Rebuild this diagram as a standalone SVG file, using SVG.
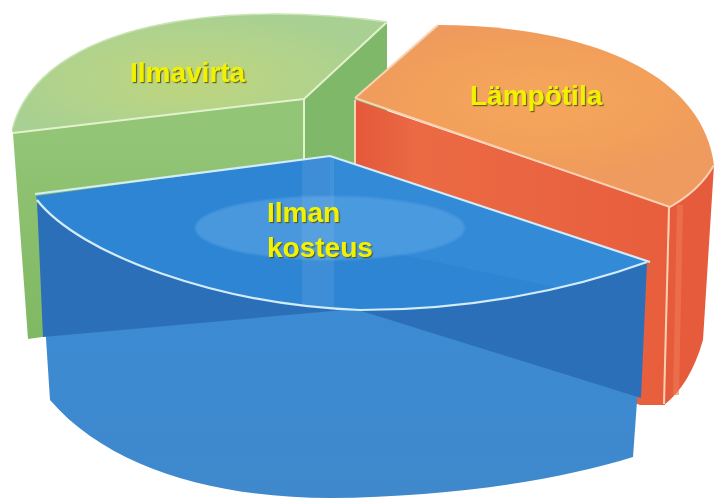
<svg xmlns="http://www.w3.org/2000/svg" width="715" height="500" viewBox="0 0 715 500">
<defs>
<radialGradient id="gTop" cx="190" cy="80" r="200" gradientUnits="userSpaceOnUse" gradientTransform="translate(190 80) scale(1 0.35) translate(-190 -80)">
<stop offset="0" stop-color="#bfd57c"/><stop offset="0.55" stop-color="#b3d38a"/><stop offset="1" stop-color="#a8d092"/>
</radialGradient>
<linearGradient id="gFront" x1="0" y1="130" x2="0" y2="340" gradientUnits="userSpaceOnUse">
<stop offset="0" stop-color="#93c576"/><stop offset="1" stop-color="#7fb862"/>
</linearGradient>
<radialGradient id="rTop" cx="540" cy="100" r="200" gradientUnits="userSpaceOnUse" gradientTransform="translate(540 100) scale(1 0.4) translate(-540 -100)">
<stop offset="0" stop-color="#f5a75c"/><stop offset="0.6" stop-color="#f2a05a"/><stop offset="1" stop-color="#ef9a5e"/>
</radialGradient>
<linearGradient id="rFront" x1="355" y1="0" x2="670" y2="0" gradientUnits="userSpaceOnUse">
<stop offset="0" stop-color="#e4583a"/><stop offset="0.2" stop-color="#eb6a44"/><stop offset="1" stop-color="#e85e3d"/>
</linearGradient>
<linearGradient id="bSide" x1="0" y1="300" x2="0" y2="500" gradientUnits="userSpaceOnUse">
<stop offset="0" stop-color="#3c8bd3"/><stop offset="1" stop-color="#3f88cc"/>
</linearGradient>
<clipPath id="bTopClip">
<path d="M36,196 L330,156 L650,262 L647,262 C570,290 470,310 360,310 C220,305 80,255 37,200 Z"/>
</clipPath>
<filter id="sh" x="-10%" y="-20%" width="120%" height="150%">
<feDropShadow dx="1.2" dy="1.2" stdDeviation="0.7" flood-color="#4a4a10" flood-opacity="0.8"/>
</filter>
<filter id="soft" x="-5%" y="-5%" width="110%" height="110%">
<feGaussianBlur stdDeviation="1.2"/>
</filter>
</defs>
<style>
.lbl{font-family:"Liberation Sans",Arial,sans-serif;font-weight:bold;font-size:28px;fill:#f2f200;filter:url(#sh)}
.ge{fill:none;stroke:#e2f2cc;stroke-width:2;stroke-linejoin:round}
.re{fill:none;stroke:#f9d2b4;stroke-width:2;stroke-linejoin:round}
.be{fill:none;stroke:#d2ecfa;stroke-width:2.2;stroke-linejoin:round}
</style>
<rect width="715" height="500" fill="#ffffff"/>

<g id="ilmavirta">
<path d="M304,99 L387,22 L387,250 L304,300 Z" fill="#7fb868"/>
<path d="M13,133 L304,99 L304,300 L28,339 Z" fill="url(#gFront)"/>
<path d="M13,133 L304,99 L387,22 C230,0 40,20 12,130 Z" fill="url(#gTop)"/>
<path d="M13,133 L304,99 L387,22" class="ge"/>
<path d="M304,99 L304,160" class="ge"/>
<path d="M387,22 C230,0 40,20 12,130" fill="none" stroke="#c9e3b4" stroke-width="1.5"/>
<text class="lbl" x="130" y="82">Ilmavirta</text>
</g>

<g id="lampotila">
<path d="M355,100 L670,207 L665,405 L640,405 L355,300 Z" fill="url(#rFront)"/>
<path d="M670,207 Q700,190 714,165 L703,340 Q690,385 664,405 Z" fill="#e65b3b"/>
<path d="M680,205 L676,395" stroke="#ef7a55" stroke-width="6" opacity="0.6"/>
<path d="M355,98 L438,25 C560,25 700,60 714,165 Q700,190 670,207 Z" fill="url(#rTop)"/>
<path d="M355,98 L670,207 Q700,190 714,165" class="re"/>
<path d="M355,98 L438,25" class="re"/>
<path d="M355,100 L355,165" class="re"/>
<path d="M669,207 L664,404" class="re"/>
<text class="lbl" x="470" y="105">Lämpötila</text>
</g>

<g id="ilman-kosteus">
<path d="M37,200 C80,255 220,305 360,310 C470,310 570,290 647,262 L633,457 C560,480 450,497 330,498 C220,498 110,470 50,400 Z" fill="url(#bSide)"/>
<path d="M37,200 C80,255 220,305 360,310 C470,310 570,290 647,262 L641,398 L355,309 L43,337 Z" fill="#2c6fb9"/>
<path d="M36,196 L330,156 L650,262 L647,262 C570,290 470,310 360,310 C220,305 80,255 37,200 Z" fill="#2d85d3"/>
<g clip-path="url(#bTopClip)">
<path d="M330,156 L650,262 L560,288 L330,240 Z" fill="#3a90da" opacity="0.5"/>
<ellipse cx="330" cy="228" rx="135" ry="32" fill="#529fe2" opacity="0.75" filter="url(#soft)"/>
<path d="M302,160 L334,156 L334,320 L302,320 Z" fill="#ffffff" opacity="0.08"/>
</g>
<path d="M35,194 L330,156 L650,262" class="be"/>
<path d="M37,200 C80,255 220,305 360,310 C470,310 570,290 647,262" class="be"/>
<text class="lbl" x="267" y="222">Ilman</text>
<text class="lbl" x="267" y="257">kosteus</text>
</g>
</svg>
